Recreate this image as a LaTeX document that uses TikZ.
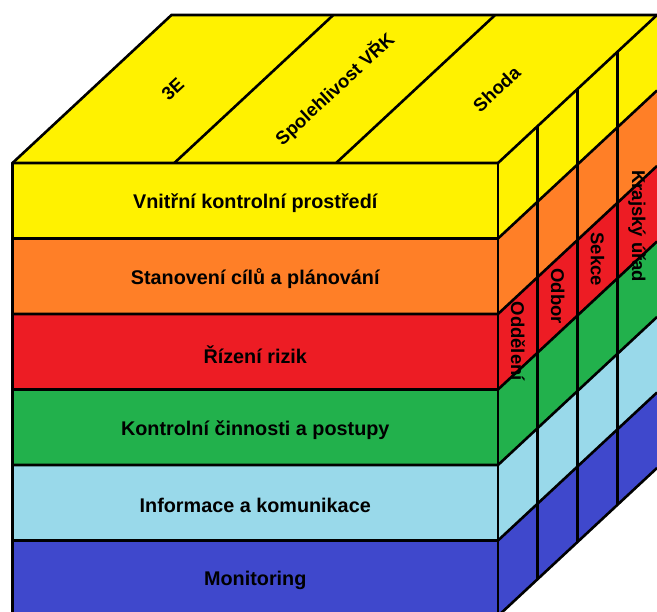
\documentclass[tikz,border=0pt]{standalone}
\usepackage{fontspec}
\setmainfont{Liberation Sans}
\definecolor{cyellow}{RGB}{255,242,0}
\definecolor{corange}{RGB}{255,127,39}
\definecolor{cred}{RGB}{237,28,36}
\definecolor{cgreen}{RGB}{34,177,76}
\definecolor{clblue}{RGB}{153,217,234}
\definecolor{cdblue}{RGB}{63,72,204}
\begin{document}
\begin{tikzpicture}[x=1pt,y=-1pt,line width=2.6pt,
  lbl/.style={font=\bfseries\fontsize{18.5}{20}\selectfont,inner sep=0pt,text=black},
  flbl/.style={lbl,font=\bfseries\fontsize{19.8}{22}\selectfont,yshift=-2.5pt}]
\useasboundingbox (0,0) rectangle (657,612);
\clip (0,0) rectangle (657,612);
\def\L{12.5}\def\R{498}\def\T{163}\def\H{75.5}\def\dx{159}\def\dy{148}
\pgfmathsetmacro\B{\T+6*\H}
% top face
\fill[cyellow] (\L,\T) -- (\R,\T) -- (\R+\dx,\T-\dy) -- (\L+\dx,\T-\dy) -- cycle;
% bands, front and side
\foreach \c [count=\i from 0] in {cyellow,corange,cred,cgreen,clblue,cdblue}{
  \pgfmathsetmacro\ya{\T+\i*\H}
  \pgfmathsetmacro\yb{\T+(\i+1)*\H}
  \fill[\c] (\L,\ya) rectangle (\R,\yb);
  \fill[\c] (\R,\ya) -- (\R+\dx,\ya-\dy) -- (\R+\dx,\yb-\dy) -- (\R,\yb) -- cycle;
}
% band boundaries
\foreach \i in {0,...,6}{
  \pgfmathsetmacro\ya{\T+\i*\H}
  \draw (\L,\ya) -- (\R,\ya) -- (\R+\dx,\ya-\dy);
}
% cube edges
\draw (\L,\B) -- (\L,\T) -- (\L+\dx,\T-\dy) -- (\R+\dx,\T-\dy);
\draw (\R,\T) -- (\R,\B);
% top face dividers
\foreach \k in {1,2}{
  \draw ({\L+\k*(\R-\L)/3},\T) -- ++(\dx,-\dy);
}
% side columns
\foreach \k in {1,2,3}{
  \draw ({\R+\k*\dx/4},{\T-\k*\dy/4}) -- ({\R+\k*\dx/4},{\B-\k*\dy/4});
}
% front labels
\foreach \t [count=\i from 0] in {Vnitřní kontrolní prostředí,Stanovení cílů a plánování,Řízení rizik,Kontrolní činnosti a postupy,Informace a komunikace,Monitoring}{
  \node[flbl] (f\i) at ({(\L+\R)/2},{\T+(\i+0.5)*\H}) {\t};
}
% top labels
\foreach \t [count=\k] in {3E,Spolehlivost VŘK,Shoda}{
  \node[lbl,rotate=42.9] (t\k) at ({\L+(\k-0.5)*(\R-\L)/3+\dx/2},{\T-\dy/2}) {\t};
}
% side labels
\node[lbl,rotate=-90] (s1) at ({\R+0.5*\dx/4},{\T+2.5*\H-0.5*\dy/4+8}) {Oddělení};
\node[lbl,rotate=-90] (s2) at ({\R+1.5*\dx/4},{\T+2.5*\H-1.5*\dy/4}) {Odbor};
\node[lbl,rotate=-90] (s3) at ({\R+2.5*\dx/4},{\T+2.5*\H-2.5*\dy/4}) {Sekce};
\node[lbl,rotate=-90] (s4) at ({\R+3.5*\dx/4},{\T+2.5*\H-3.5*\dy/4+4}) {Krajský úřad};
\end{tikzpicture}
\end{document}
